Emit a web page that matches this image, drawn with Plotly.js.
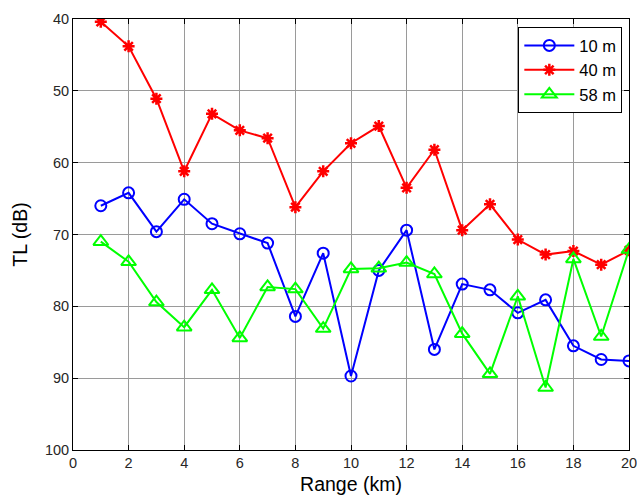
<!DOCTYPE html>
<html>
<head>
<meta charset="utf-8">
<script src="https://cdn.plot.ly/plotly-3.0.1.min.js"></script>
<style>html,body{margin:0;padding:0;background:#fff;}#chart{width:637px;height:499px;}</style>
</head>
<body>
<div id="chart"></div>
<script>
const rangeKm = [1,2,3,4,5,6,7,8,9,10,11,12,13,14,15,16,17,18,19,20];
const tl10m = [66.0,64.2,69.6,65.1,68.5,69.9,71.2,81.4,72.6,89.7,75.0,69.4,86.0,76.9,77.7,80.9,79.1,85.5,87.4,87.6];
const tl40m = [40.4,43.8,51.1,61.2,53.2,55.5,56.6,66.2,61.2,57.3,54.9,63.5,58.2,69.4,65.8,70.7,72.8,72.3,74.2,72.2];
const tl58m = [71.0,73.8,79.4,82.9,77.7,84.4,77.3,77.6,83.1,74.8,74.7,73.9,75.5,83.8,89.4,78.6,91.3,73.4,84.2,72.1];
const seriesNames = ['10 m','40 m','58 m'];
const xTicks = [0,2,4,6,8,10,12,14,16,18,20];
const yTicks = [40,50,60,70,80,90,100];

const FONT = 'Liberation Sans, Arial, sans-serif';

const traces = [
  {x: rangeKm, y: tl10m, name: seriesNames[0], mode: 'lines+markers',
   line: {color: '#0000ff', width: 2},
   marker: {symbol: 'circle-open', size: 11, color: '#0000ff', line: {width: 2, color: '#0000ff'}}},
  {x: rangeKm, y: tl40m, name: seriesNames[1], mode: 'lines+markers',
   line: {color: '#ff0000', width: 2},
   marker: {symbol: 'asterisk-open', size: 10, color: '#ff0000', line: {width: 2.5, color: '#ff0000'}}},
  {x: rangeKm, y: tl58m, name: seriesNames[2], mode: 'lines+markers',
   line: {color: '#00ff00', width: 2},
   marker: {symbol: 'triangle-up-open', size: 13, color: '#00ff00', line: {width: 2, color: '#00ff00'}}}
];

const axisCommon = {
  showline: true, linecolor: '#000', linewidth: 1, mirror: 'allticks',
  ticks: 'inside', ticklen: 5, tickcolor: '#000',
  showgrid: true, gridcolor: '#9a9a9a', gridwidth: 1,
  zeroline: false, ticklabeloverflow: 'allow',
  tickfont: {family: FONT, size: 14.5, color: '#262626'}
};

const layout = {
  width: 637, height: 499,
  margin: {l: 72.5, r: 8, t: 19, b: 49},
  paper_bgcolor: '#fff', plot_bgcolor: '#fff',
  showlegend: true,
  legend: {x: 0.988, y: 0.981, xanchor: 'right', yanchor: 'top',
    bgcolor: '#fff', bordercolor: '#000', borderwidth: 1,
    font: {family: FONT, size: 16.5, color: '#000'},
    itemwidth: 50, tracegroupgap: 0},
  xaxis: Object.assign({}, axisCommon, {
    range: [0, 20], tickvals: xTicks, ticktext: xTicks.map(String),
    title: {text: 'Range (km)', standoff: 6, font: {family: FONT, size: 19.5, color: '#000'}}
  }),
  yaxis: Object.assign({}, axisCommon, {
    range: [100, 40], tickvals: yTicks, ticktext: yTicks.map(String),
    title: {text: 'TL (dB)', standoff: 12, font: {family: FONT, size: 19.5, color: '#000'}}
  })
};

Plotly.newPlot('chart', traces, layout, {displayModeBar: false, staticPlot: true});
</script>
</body>
</html>
